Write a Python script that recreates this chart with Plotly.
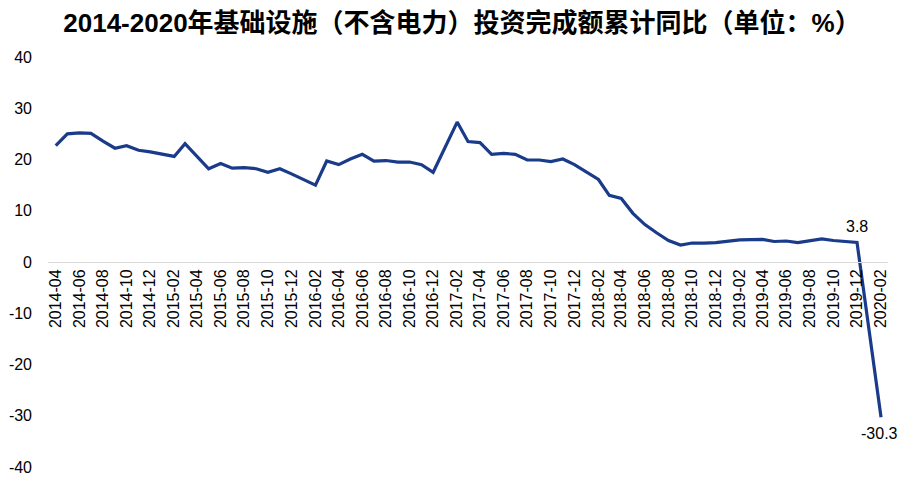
import plotly.graph_objects as go

months = [
    "2014-04", "2014-05", "2014-06", "2014-07", "2014-08", "2014-09", "2014-10", "2014-11", "2014-12",
    "2015-02", "2015-03", "2015-04", "2015-05", "2015-06", "2015-07", "2015-08", "2015-09", "2015-10", "2015-11", "2015-12",
    "2016-02", "2016-03", "2016-04", "2016-05", "2016-06", "2016-07", "2016-08", "2016-09", "2016-10", "2016-11", "2016-12",
    "2017-02", "2017-03", "2017-04", "2017-05", "2017-06", "2017-07", "2017-08", "2017-09", "2017-10", "2017-11", "2017-12",
    "2018-02", "2018-03", "2018-04", "2018-05", "2018-06", "2018-07", "2018-08", "2018-09", "2018-10", "2018-11", "2018-12",
    "2019-02", "2019-03", "2019-04", "2019-05", "2019-06", "2019-07", "2019-08", "2019-09", "2019-10", "2019-11", "2019-12",
    "2020-02",
]
growth = [
    22.7, 25.0, 25.2, 25.1, 23.6, 22.2, 22.7, 21.8, 21.5,
    20.6, 23.1, 20.6, 18.2, 19.2, 18.3, 18.4, 18.2, 17.5, 18.2, 17.2,
    15.0, 19.7, 19.0, 20.1, 21.0, 19.7, 19.8, 19.5, 19.5, 19.0, 17.5,
    27.3, 23.5, 23.3, 21.0, 21.2, 21.0, 19.9, 19.9, 19.6, 20.1, 19.0,
    16.1, 13.0, 12.4, 9.5, 7.3, 5.7, 4.2, 3.3, 3.7, 3.7, 3.8,
    4.3, 4.4, 4.4, 4.0, 4.1, 3.8, 4.2, 4.5, 4.2, 4.0, 3.8,
    -30.3,
]
y_ticks = [40, 30, 20, 10, 0, -10, -20, -30, -40]
labeled_points = ["2019-12", "2020-02"]
title_text = "2014-2020年基础设施（不含电力）投资完成额累计同比（单位：%）"

font_family = "Liberation Sans, Arial, Noto Sans CJK SC, sans-serif"
x_dates = [m + "-01" for m in months]

fig = go.Figure()
fig.add_trace(go.Scatter(
    x=x_dates, y=growth, mode="lines",
    line=dict(color="#1A3A8A", width=3.2),
    hoverinfo="skip", showlegend=False,
))

shifts = {"2019-12": (0, 16), "2020-02": (-2, -16)}
for m in labeled_points:
    i = months.index(m)
    xs, ys = shifts[m]
    fig.add_annotation(
        x=x_dates[i], y=growth[i], text=f"{growth[i]:.1f}",
        showarrow=False, xshift=xs, yshift=ys,
        font=dict(size=16, color="#000000", family=font_family),
    )

# page body has an 8px default margin; figure sized to fit the 916x484 window
fig.update_layout(
    width=908, height=476,
    margin=dict(l=40, r=28, t=49, b=17, autoexpand=False),
    paper_bgcolor="white", plot_bgcolor="white",
    title=dict(
        text="<b>" + title_text + "</b>",
        x=0.5, xanchor="center", y=0.968, yanchor="middle",
        font=dict(size=26, color="#000000", family=font_family),
    ),
    font=dict(family=font_family, color="#000000"),
    xaxis=dict(
        type="date",
        range=["2014-03-12", "2020-02-19"],
        tick0="2014-04-01", dtick="M2", tickformat="%Y-%m",
        tickangle=-90,
        tickfont=dict(size=16, color="#000000"),
        showgrid=False, zeroline=False,
        showline=True, linecolor="#D9D9D9", linewidth=1,
        anchor="free", position=0.5,
        ticks="", automargin=False,
    ),
    yaxis=dict(
        range=[-40, 40],
        tickmode="array", tickvals=y_ticks, ticktext=[str(v) for v in y_ticks],
        tickfont=dict(size=16, color="#000000"),
        showgrid=False, zeroline=False, showline=False,
        ticks="", ticklabelstandoff=15, automargin=False,
    ),
)

fig.write_html("out.html")
